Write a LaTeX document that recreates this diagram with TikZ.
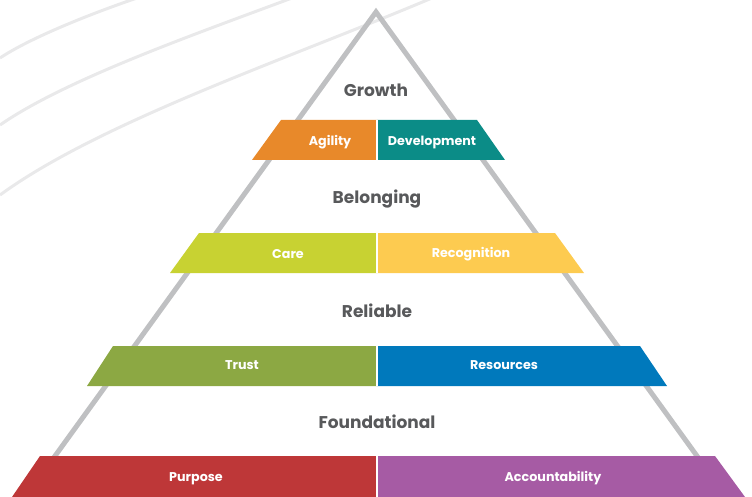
\documentclass[tikz,border=0pt]{standalone}
\usepackage{fontspec}
\setmainfont{Poppins}
\definecolor{bgcurve}{HTML}{E9E9EA}
\definecolor{tri}{HTML}{BFC0C2}
\definecolor{head}{HTML}{58595B}
\definecolor{cAgility}{HTML}{E8892A}
\definecolor{cDevelop}{HTML}{0B8C87}
\definecolor{cCare}{HTML}{C8D232}
\definecolor{cRecog}{HTML}{FDCB50}
\definecolor{cTrust}{HTML}{8CA843}
\definecolor{cRes}{HTML}{0079BC}
\definecolor{cPurpose}{HTML}{BE3738}
\definecolor{cAccount}{HTML}{A65BA4}
\tikzset{
  bgline/.style={draw=bgcurve, line width=3pt},
  triline/.style={draw=tri, line width=5pt, line join=miter},
  heading/.style={text=head, font=\fontsize{17}{20}\selectfont\bfseries, inner sep=0pt},
  bandlabel/.style={text=white, font=\fontsize{12.7}{15}\selectfont\bfseries, inner sep=0pt},
  divider/.style={draw=white, line width=1.8pt}
}
\begin{document}
\begin{tikzpicture}[x=1pt,y=-1pt]
\useasboundingbox (0,0) rectangle (752,497);
\clip (0,0) rectangle (752,497);
% background curves
\draw[bgline] (0,58) .. controls (30,38) and (90,14) .. (137,-2);
\draw[bgline] (0,125) .. controls (65,80) and (190,36) .. (292,-2);
\draw[bgline] (0,195) .. controls (100,122) and (290,58) .. (432,-2);
% triangle
\coordinate (apex) at (376,12);
\coordinate (bl) at (42,474);
\coordinate (br) at (710,474);
\draw[triline] (bl) -- (apex) -- (br);
% band 1
\fill[cAgility] (281,120) -- (377,120) -- (377,160) -- (252,160) -- cycle;
\fill[cDevelop] (377,120) -- (477,120) -- (505,160) -- (377,160) -- cycle;
\draw[divider] (377,120) -- (377,160);
% band 2
\fill[cCare] (199,233) -- (377,233) -- (377,273) -- (170,273) -- cycle;
\fill[cRecog] (377,233) -- (555,233) -- (584,273) -- (377,273) -- cycle;
\draw[divider] (377,233) -- (377,273);
% band 3
\fill[cTrust] (113,346) -- (377,346) -- (377,386) -- (87,386) -- cycle;
\fill[cRes] (377,346) -- (640,346) -- (667,386) -- (377,386) -- cycle;
\draw[divider] (377,346) -- (377,386);
% band 4
\fill[cPurpose] (40,456) -- (377,456) -- (377,497) -- (12,497) -- cycle;
\fill[cAccount] (377,456) -- (715,456) -- (745,497) -- (377,497) -- cycle;
\draw[divider] (377,456) -- (377,497);
% headings
\node[heading] (growth) at (376,90) {Growth};
\node[heading] (belonging) at (377,199) {Belonging};
\node[heading] (reliable) at (377,311) {Reliable};
\node[heading] (foundational) at (377,422) {Foundational};
% band labels
\node[bandlabel] (agility) at (330,142.5) {Agility};
\node[bandlabel] (development) at (432,142.5) {Development};
\node[bandlabel] (care) at (288,254.5) {Care};
\node[bandlabel] (recognition) at (471,254.5) {Recognition};
\node[bandlabel] (trust) at (242,365.5) {Trust};
\node[bandlabel] (resources) at (504,365.5) {Resources};
\node[bandlabel] (purpose) at (196,478.5) {Purpose};
\node[bandlabel] (accountability) at (553,478.5) {Accountability};
\end{tikzpicture}
\end{document}
